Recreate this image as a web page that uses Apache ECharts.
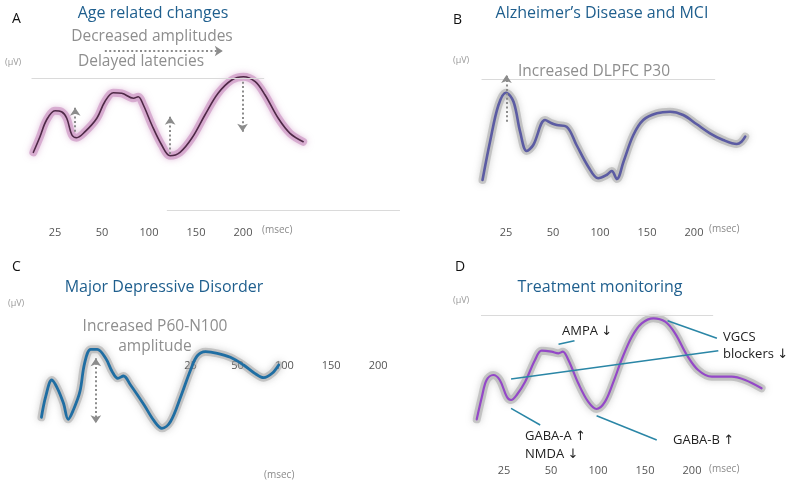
<!DOCTYPE html>
<html><head><meta charset="utf-8">
<script src="https://cdn.jsdelivr.net/npm/echarts@6/dist/echarts.min.js"></script>
<style>html,body{margin:0;padding:0;background:#fff}#c{width:793px;height:485px}</style>
</head><body><div id="c"></div><script>
// x = latency position (tick index: 1=25ms, 2=50, 3=100, 4=150, 5=200), y = amplitude (a.u. µV)
const TICK_LABELS = ['25', '50', '100', '150', '200'];

// Panel A – Age related changes
const ageTime = [0.54,0.68,0.82,1.0,1.14,1.25,1.36,1.46,1.64,1.89,2.06,2.24,2.42,2.67,2.77,2.88,3.06,3.27,3.45,3.66,3.91,4.19,4.47,4.76,5.01,5.26,5.47,5.75,6.0,6.28];
const ageAmp  = [6.97,8.53,10.2,11.13,11.03,10.37,8.7,8.43,9.03,10.37,12.03,12.93,12.87,12.37,12.53,11.7,9.7,7.7,6.63,6.97,8.37,10.7,12.87,14.2,14.53,14.03,12.7,10.37,8.87,8.03];
const ageArrows = [[1.43,9.03,1.43,11.43],[3.45,6.8,3.45,10.53],[4.99,14.03,4.99,9.03],[2.06,17.1,4.57,17.1]];
const ageRefs = [[0.5,14.37,5.45,14.37],[3.38,1.2,8.34,1.2]];

// Panel B – Alzheimer's Disease and MCI
const adTime = [0.50,0.66,0.84,1.0,1.16,1.30,1.44,1.58,1.83,1.97,2.08,2.29,2.50,2.75,2.96,3.14,3.25,3.36,3.50,3.71,3.92,4.21,4.49,4.77,5.06,5.34,5.62,5.91,6.01,6.09];
const adAmp  = [4.2,8.03,11.7,12.93,12.03,9.03,7.1,7.7,10.2,9.87,9.7,9.53,7.7,5.53,4.37,4.7,5.1,4.3,6.03,8.7,10.2,10.87,11.03,10.7,9.77,8.87,8.2,7.8,8.03,8.53];
const adArrows = [[1.01,10.03,1.01,14.7]];
const adRefs = [[0.48,14.3,5.45,14.3]];

// Panel C – Major Depressive Disorder
const mddTime = [-2.18,-2.09,-1.96,-1.84,-1.71,-1.61,-1.50,-1.36,-1.26,-1.13,-0.99,-0.81,-0.67,-0.55,-0.43,-0.28,0.01,0.22,0.39,0.57,0.79,1.0,1.14,1.32,1.57,1.85,2.13,2.35,2.56,2.74,2.88];
const mddAmp  = [4.47,6.53,8.2,7.37,5.87,4.27,5.2,7.03,9.87,11.27,11.27,10.37,9.03,8.37,8.6,7.7,5.7,4.13,3.37,4.03,6.53,9.2,10.6,11.03,10.87,10.47,9.7,8.93,8.43,8.87,9.7];
const mddArrows = [[-1.02,10.37,-1.02,3.87]];

// Panel D – Treatment monitoring
const txTime = [0.42,0.53,0.63,0.77,0.91,1.06,1.15,1.27,1.45,1.66,1.80,2.01,2.16,2.25,2.37,2.58,2.79,2.97,3.15,3.33,3.50,3.72,3.93,4.18,4.43,4.64,4.89,5.13,5.42,5.84,6.13,6.48];
const txAmp  = [4.07,6.33,8.0,8.5,8.0,6.33,6.0,6.5,7.83,10.0,10.93,10.83,10.67,10.83,10.0,7.67,5.83,5.1,5.83,7.83,10.0,12.33,13.67,14.17,13.83,12.67,10.5,9.0,8.33,8.33,8.0,7.17];
const txLeaders = [[2.16,11.57,2.50,11.93],[4.48,13.93,5.53,12.17],[1.15,8.1,5.56,10.93],[1.15,5.17,1.77,3.5],[2.97,4.43,4.25,2.0]];
const txRefs = [[0.51,14.43,5.45,14.43]];

const panels = [
  {grid:{left:8, top:32, width:399.5, height:190}, min:0, max:8.5, offset:0, margin:5},
  {grid:{left:459, top:32, width:329, height:190}, min:0, max:7, offset:0, margin:5},
  {grid:{left:2, top:272, width:423, height:190}, min:-3, max:6, offset:-103, margin:1},
  {grid:{left:457, top:270, width:329, height:190}, min:0, max:7, offset:0, margin:5}
];

function pairs(t, a){ return t.map((v,i)=>[v,a[i]]); }
function segs(list){ return list.map(s=>[{coord:[s[0],s[1]]}, {coord:[s[2],s[3]]}]); }

const grids = panels.map(p=>p.grid);
const xAxes = panels.map((p,i)=>({
  type:'value', gridIndex:i, min:p.min, max:p.max, interval:1, offset:p.offset,
  axisLine:{show:false}, axisTick:{show:false}, splitLine:{show:false},
  axisLabel:{margin:p.margin, color:'#555', fontSize:11, fontFamily:'Open Sans',
    formatter:v=>(Number.isInteger(v)&&v>=1&&v<=5)?TICK_LABELS[v-1]:''}
}));
const yAxes = panels.map((p,i)=>({type:'value', gridIndex:i, min:0, max:19, show:false}));

const dotted = {color:'#8c8c8c', width:2, type:[2,2.4]};
const refStyle = {color:'#dadada', width:1, type:'solid'};

function curve(i, data, core, glow, mlCore, mlGlow){
  return [
    {type:'line', xAxisIndex:i, yAxisIndex:i, data, smooth:0.35, showSymbol:false, silent:true, z:1, clip:false,
      lineStyle:{color:glow.color, width:glow.width, shadowBlur:glow.blur, shadowColor:glow.shadow, cap:'round'},
      markLine: mlGlow},
    {type:'line', xAxisIndex:i, yAxisIndex:i, data, smooth:0.35, showSymbol:false, silent:true, z:2, clip:false,
      lineStyle:{color:core.color, width:core.width, cap:'round'},
      markLine: mlCore}
  ];
}
function ml(list, style, symbol, size){
  return {silent:true, symbol, symbolSize:size, label:{show:false}, lineStyle:style, emphasis:{disabled:true}, data:segs(list), animation:false};
}

const grayGlow = {color:'rgba(160,160,160,0.5)', width:8, blur:7, shadow:'rgba(130,130,130,0.7)'};
const series = [].concat(
  curve(0, pairs(ageTime, ageAmp), {color:'#4e2946', width:1.6},
    {color:'rgba(200,140,190,0.6)', width:8, blur:6, shadow:'rgba(200,140,190,0.85)'},
    ml(ageArrows, dotted, ['none','arrow'], 8), ml(ageRefs, refStyle, ['none','none'], 0)),
  curve(1, pairs(adTime, adAmp), {color:'#5b5ba3', width:2.6}, grayGlow,
    ml(adArrows, dotted, ['none','arrow'], 8), ml(adRefs, refStyle, ['none','none'], 0)),
  curve(2, pairs(mddTime, mddAmp), {color:'#1f6ea3', width:2.8}, grayGlow,
    ml(mddArrows, dotted, ['arrow','arrow'], 8), undefined),
  curve(3, pairs(txTime, txAmp), {color:'#9448c8', width:2.2}, grayGlow,
    ml(txLeaders, {color:'#2a86a6', width:1.5, type:'solid'}, ['none','none'], 0), ml(txRefs, refStyle, ['none','none'], 0))
);

const F = 'Open Sans, Noto Sans, DejaVu Sans, sans-serif';
const styles = {
  letter:{fontSize:14, fill:'#111', align:'left'},
  title:{fontSize:16, fill:'#1f5f8e', align:'center'},
  note:{fontSize:15.5, fill:'#8e8e8e', align:'center'},
  unit:{fontSize:9, fill:'#9a9a9a', align:'left'},
  msec:{fontSize:10, fill:'#8a8a8a', align:'left'},
  drug:{fontSize:13, fill:'#222', align:'left'}
};
const texts = [
  ['A',12,19,'letter'], ['Age related changes',153,13,'title'], ['Decreased amplitudes',152,37,'note'], ['Delayed latencies',141,62,'note'],
  ['(µV)',5,62,'unit'], ['(msec)',262,230,'msec'],
  ['B',453,20,'letter'], ['Alzheimer\u2019s Disease and MCI',602,13,'title'], ['Increased DLPFC P30',594,72,'note'],
  ['(µV)',453,60,'unit'], ['(msec)',709,229,'msec'],
  ['C',12,267,'letter'], ['Major Depressive Disorder',164,287,'title'], ['Increased P60-N100',155,327,'note'], ['amplitude',155,347,'note'],
  ['(µV)',8,303,'unit'], ['(msec)',264,475,'msec'],
  ['D',455,267,'letter'], ['Treatment monitoring',600,287,'title'], ['(µV)',453,300,'unit'], ['(msec)',709,469,'msec'],
  ['AMPA \u2193',562,331,'drug'], ['VGCS',723,337,'drug'], ['blockers \u2193',723,354,'drug'],
  ['GABA-A \u2191',525,436,'drug'], ['NMDA \u2193',525,454,'drug'], ['GABA-B \u2191',673,440,'drug']
];
const graphic = texts.map(t=>({type:'text', x:t[1], y:t[2], silent:true, z:10,
  style:Object.assign({text:t[0], fontFamily:F, verticalAlign:'middle'}, styles[t[3]])}));

const chart = echarts.init(document.getElementById('c'), null, {renderer:'canvas'});
chart.setOption({animation:false, backgroundColor:'#fff', grid:grids, xAxis:xAxes, yAxis:yAxes, series, graphic});
</script></body></html>
